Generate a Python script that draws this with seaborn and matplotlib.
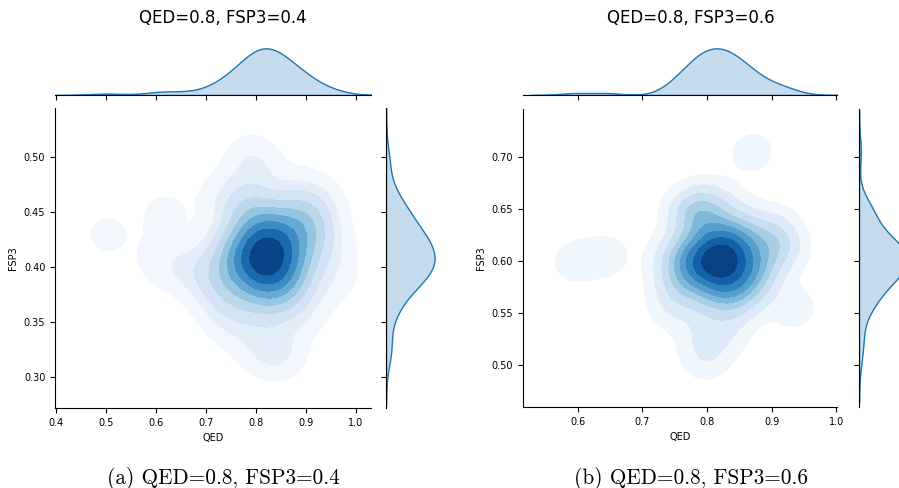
import numpy as np
import pandas as pd
import matplotlib
matplotlib.use("Agg")
import matplotlib.pyplot as plt
import seaborn as sns

sns.set_style("ticks")
plt.rcParams['font.family'] = ['DejaVu Sans']
plt.rcParams.update({"text.color": "black", "axes.labelcolor": "black",
                     "xtick.color": "black", "ytick.color": "black",
                     "axes.edgecolor": "black"})

# ==========================
#  Samples
# ==========================
# (a) main cluster near QED 0.82 / FSP3 0.41, then the stray molecules
left_qed = [0.736, 0.761, 0.775, 0.785, 0.794, 0.802, 0.809, 0.816,
            0.824, 0.831, 0.838, 0.846, 0.855, 0.865, 0.879, 0.904,
            0.736, 0.761, 0.775, 0.785, 0.794, 0.802, 0.809, 0.816,
            0.824, 0.831, 0.838, 0.846, 0.855, 0.865, 0.879, 0.904,
            0.736, 0.761, 0.775, 0.785, 0.794, 0.802, 0.809, 0.816,
            0.824, 0.831, 0.838, 0.846, 0.855, 0.865, 0.879, 0.904,
            0.50, 0.615, 0.605, 0.66, 0.69, 0.79, 0.80, 0.88, 0.93,
            0.95, 0.96, 0.85, 0.80, 0.75, 0.73, 0.72, 0.90, 0.84,
            0.89, 0.91]
left_fsp3 = [0.365, 0.400, 0.420, 0.455, 0.396, 0.416, 0.442, 0.391,
             0.412, 0.434, 0.386, 0.408, 0.429, 0.378, 0.404, 0.424,
             0.391, 0.420, 0.378, 0.412, 0.455, 0.404, 0.434, 0.396,
             0.424, 0.386, 0.416, 0.365, 0.408, 0.442, 0.400, 0.429,
             0.416, 0.396, 0.455, 0.420, 0.400, 0.365, 0.424, 0.404,
             0.378, 0.429, 0.408, 0.386, 0.434, 0.412, 0.391, 0.442,
             0.43, 0.45, 0.405, 0.40, 0.395, 0.50, 0.49, 0.47, 0.46,
             0.42, 0.39, 0.325, 0.33, 0.35, 0.465, 0.38, 0.36, 0.32,
             0.45, 0.44]

# (b) main cluster near QED 0.82 / FSP3 0.60, then the stray molecules
right_qed = [0.745, 0.765, 0.775, 0.785, 0.794, 0.802, 0.809, 0.816,
             0.824, 0.831, 0.838, 0.846, 0.855, 0.865, 0.879, 0.904,
             0.745, 0.765, 0.775, 0.785, 0.794, 0.802, 0.809, 0.816,
             0.824, 0.831, 0.838, 0.846, 0.855, 0.865, 0.879, 0.904,
             0.745, 0.765, 0.775, 0.785, 0.794, 0.802, 0.809, 0.816,
             0.824, 0.831, 0.838, 0.846, 0.855, 0.865, 0.879, 0.904,
             0.595, 0.645, 0.87, 0.935, 0.79, 0.80, 0.83, 0.80, 0.92,
             0.77, 0.83]
right_fsp3 = [0.555, 0.590, 0.610, 0.645, 0.586, 0.606, 0.632, 0.581,
              0.602, 0.624, 0.576, 0.598, 0.619, 0.568, 0.594, 0.614,
              0.581, 0.610, 0.568, 0.602, 0.645, 0.594, 0.624, 0.586,
              0.614, 0.576, 0.606, 0.555, 0.598, 0.632, 0.590, 0.619,
              0.606, 0.586, 0.645, 0.610, 0.590, 0.555, 0.614, 0.594,
              0.568, 0.619, 0.598, 0.576, 0.624, 0.602, 0.581, 0.632,
              0.60, 0.605, 0.705, 0.555, 0.525, 0.505, 0.65, 0.66, 0.61,
              0.65, 0.53]

titles = ["QED=0.8, FSP3=0.4", "QED=0.8, FSP3=0.6"]
captions = ["(a) QED=0.8, FSP3=0.4", "(b) QED=0.8, FSP3=0.6"]
xlims = [(0.398, 1.03), (0.515, 1.001)]
ylims = [(0.272, 0.545), (0.46, 0.7465)]
x_ticks = [[0.4, 0.5, 0.6, 0.7, 0.8, 0.9, 1.0], [0.6, 0.7, 0.8, 0.9, 1.0]]
y_ticks = [[0.30, 0.35, 0.40, 0.45, 0.50], [0.50, 0.55, 0.60, 0.65, 0.70]]
bw = [1.0, 0.9]

W, H = 899, 488


def frac(x0, y0, x1, y1):
    """pixel box (top-left origin) -> figure fraction rect"""
    return [x0 / W, (H - y1) / H, (x1 - x0) / W, (y1 - y0) / H]


def joint_panel(fig, df, boxes, i):
    joint_box, top_box, side_box = boxes
    ax = fig.add_axes(frac(*joint_box))
    ax_top = fig.add_axes(frac(*top_box), sharex=ax)
    ax_side = fig.add_axes(frac(*side_box), sharey=ax)

    sns.kdeplot(data=df, x="QED", y="FSP3", fill=True, cmap="Blues",
                levels=10, thresh=0.05, bw_adjust=bw[i], ax=ax)
    sns.kdeplot(data=df, x="QED", fill=True, color="C0", linewidth=1,
                bw_adjust=bw[i], ax=ax_top)
    sns.kdeplot(data=df, y="FSP3", fill=True, color="C0", linewidth=1,
                bw_adjust=bw[i], ax=ax_side)

    ax.set_xlim(*xlims[i])
    ax.set_ylim(*ylims[i])
    ax.set_xticks(x_ticks[i])
    ax.set_yticks(y_ticks[i])
    ax.set_xlabel("QED", fontsize=7)
    ax.set_ylabel("FSP3", fontsize=7)
    ax.tick_params(labelsize=7, length=3.5, width=0.8)
    sns.despine(ax=ax)

    ax_top.set_ylim(bottom=0)
    ax_top.tick_params(labelbottom=False, left=False, labelleft=False,
                       length=3.5, width=0.8)
    ax_top.set_xlabel("")
    ax_top.set_ylabel("")
    sns.despine(ax=ax_top, left=True)

    ax_side.set_xlim(left=0)
    ax_side.tick_params(labelleft=False, bottom=False, labelbottom=False,
                        length=3.5, width=0.8)
    ax_side.set_xlabel("")
    ax_side.set_ylabel("")
    sns.despine(ax=ax_side, bottom=True)


def main():
    fig = plt.figure(figsize=(W / 100, H / 100), dpi=100)

    frames = [pd.DataFrame({"QED": left_qed, "FSP3": left_fsp3}),
              pd.DataFrame({"QED": right_qed, "FSP3": right_fsp3})]
    layout = [
        [(55, 108, 371, 408), (55, 46, 371, 95), (386, 108, 437, 408)],
        [(522.7, 109, 837, 407), (522.7, 46, 837, 95), (859, 109, 910, 407)],
    ]
    centers = [223, 691]

    for i in range(2):
        joint_panel(fig, frames[i], layout[i], i)
        fig.text(centers[i] / W, 1 - 18 / H, titles[i], fontsize=12,
                 ha="center", va="center")
        fig.text(centers[i] / W, 1 - 478 / H, captions[i], fontsize=15.3,
                 family="cmr10", ha="center", va="center")

    fig.savefig("out.png", dpi=100)


if __name__ == "__main__":
    main()
